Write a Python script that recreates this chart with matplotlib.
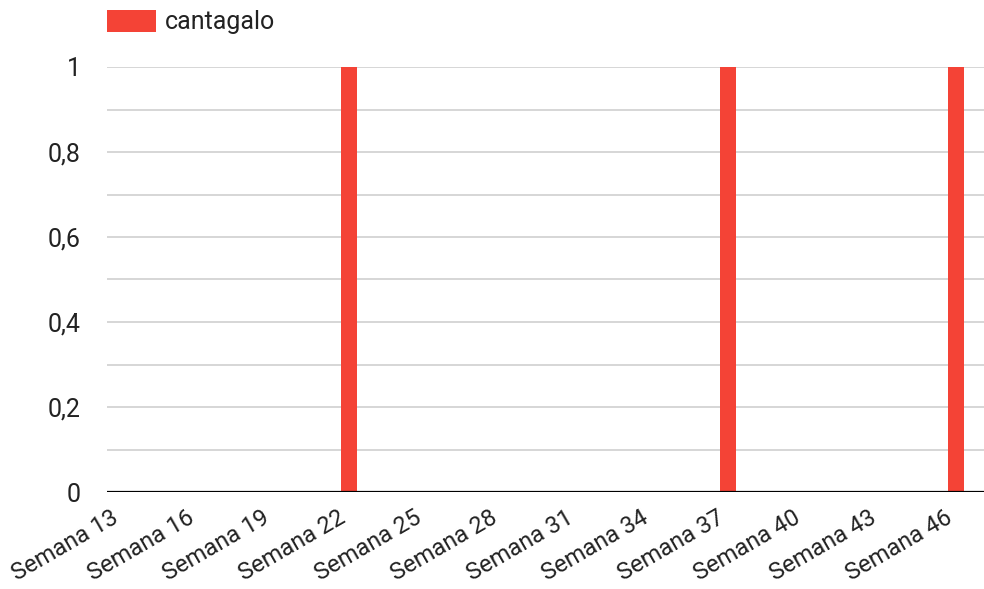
import numpy as np
import matplotlib
matplotlib.use("Agg")
import matplotlib.pyplot as plt
from matplotlib.ticker import MultipleLocator

plt.rcParams['font.family'] = ['Roboto', 'DejaVu Sans']

# data: one bar per week, Semana 13 .. Semana 46
weeks = list(range(13, 47))
labels = ['Semana %d' % w for w in weeks]
cantagalo = [0, 0, 0, 0, 0, 0, 0, 0, 0, 1, 0, 0, 0, 0, 0, 0, 0,
             0, 0, 0, 0, 0, 0, 0, 1, 0, 0, 0, 0, 0, 0, 0, 0, 1]
yticks = [0, 0.2, 0.4, 0.6, 0.8, 1]
ytick_labels = ['0', '0,2', '0,4', '0,6', '0,8', '1']

red = '#f44336'
fs = 18

fig = plt.figure(figsize=(9.84, 5.89), dpi=100)
ax = fig.add_axes([107 / 984, 97 / 589, 877 / 984, 425 / 589])

x = np.arange(len(weeks))
ax.bar(x, cantagalo, width=0.64, color=red, label='cantagalo', zorder=3)

ax.set_xlim(-0.59, 34.12)
ax.set_ylim(0, 1)

ax.set_yticks(yticks)
ax.set_yticklabels(ytick_labels)
ax.yaxis.set_minor_locator(MultipleLocator(0.1))
ax.grid(axis='y', which='both', color='#cccccc', linewidth=1.1, zorder=0)
ax.axhline(0, color='black', linewidth=1.6, zorder=4)

ax.set_xticks(x[::3])
ax.set_xticklabels(labels[::3], rotation=30, ha='right', va='top')

ax.tick_params(axis='both', which='both', length=0, labelsize=fs,
               colors='#222222')
ax.tick_params(axis='x', labelsize=17, pad=10)
ax.tick_params(axis='y', pad=19)

for s in ax.spines.values():
    s.set_visible(False)

fig.legend(loc='center left', bbox_to_anchor=(107 / 984, 1 - 22 / 589),
           frameon=False, borderpad=0, borderaxespad=0, fontsize=fs,
           handlelength=1.96, handleheight=0.96, handletextpad=0.36,
           labelcolor='#222222')

fig.savefig('out.png', dpi=100)
